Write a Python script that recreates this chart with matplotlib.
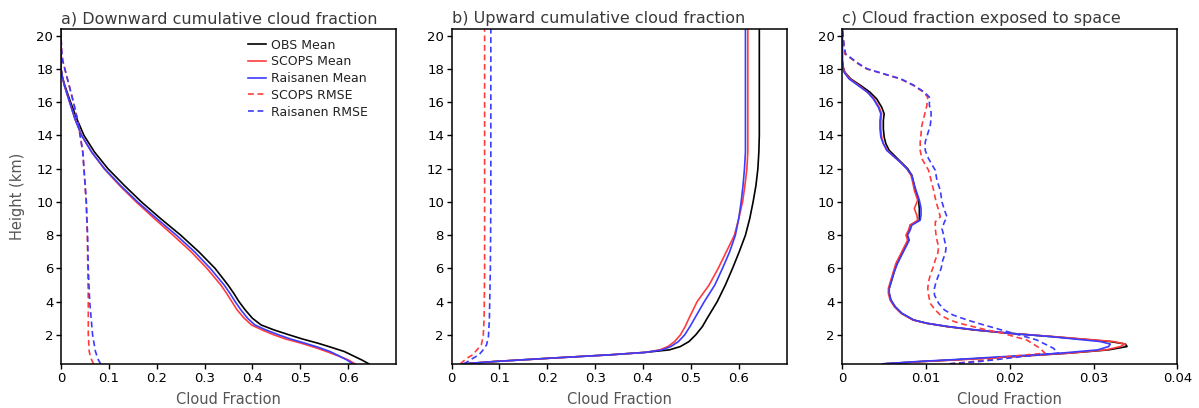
import matplotlib
matplotlib.use('Agg')
import matplotlib.pyplot as plt
import numpy as np

# ---- a) downward cumulative cloud fraction ----
h_a = [0.25, 0.5, 0.75, 1.0, 1.25, 1.5, 1.75, 2.0, 2.3, 2.6, 3.0, 3.5, 4.0, 4.5, 5.0,
       6.0, 7.0, 8.0, 9.0, 10.0, 11.0, 12.0, 13.0, 14.0, 15.0, 16.0, 17.0, 17.5, 18.0, 19.0, 20.4]
obs_a = [0.644, 0.628, 0.610, 0.592, 0.565, 0.537, 0.505, 0.477, 0.445, 0.418, 0.400, 0.385, 0.372, 0.361, 0.349,
         0.322, 0.288, 0.250, 0.208, 0.168, 0.132, 0.098, 0.070, 0.048, 0.033, 0.020, 0.008, 0.003, 0.0, 0.0, 0.0]
scops_a = [0.615, 0.600, 0.578, 0.555, 0.530, 0.502, 0.470, 0.445, 0.420, 0.398, 0.383, 0.368, 0.357, 0.346, 0.334,
           0.305, 0.272, 0.234, 0.195, 0.157, 0.122, 0.090, 0.064, 0.043, 0.029, 0.018, 0.007, 0.003, 0.0, 0.0, 0.0]
rais_a = [0.610, 0.597, 0.580, 0.562, 0.538, 0.510, 0.480, 0.455, 0.428, 0.405, 0.390, 0.376, 0.364, 0.353, 0.341,
          0.312, 0.279, 0.241, 0.200, 0.160, 0.124, 0.091, 0.064, 0.043, 0.029, 0.018, 0.007, 0.003, 0.0, 0.0, 0.0]

hr_a = [0.25, 0.5, 0.75, 1.0, 1.5, 2.0, 3.0, 4.0, 6.0, 8.0, 10.0, 12.0, 13.0, 14.0, 15.0,
        16.0, 17.0, 18.0, 18.5, 19.0, 20.0, 20.4]
scops_rmse_a = [0.068, 0.064, 0.061, 0.059, 0.058, 0.057, 0.057, 0.057, 0.056, 0.055, 0.0525, 0.048, 0.0455, 0.040, 0.034,
                0.026, 0.017, 0.008, 0.0035, 0.0015, 0.0, 0.0]
rais_rmse_a = [0.083, 0.078, 0.075, 0.072, 0.069, 0.066, 0.063, 0.060, 0.057, 0.0555, 0.053, 0.048, 0.0455, 0.040, 0.034,
               0.026, 0.017, 0.008, 0.0035, 0.0015, 0.0, 0.0]

# ---- b) upward cumulative cloud fraction ----
h_b = [0.25, 0.4, 0.6, 0.8, 0.95, 1.1, 1.3, 1.6, 2.0, 2.5, 3.0, 4.0, 5.0, 6.0, 7.0,
       8.0, 9.0, 10.0, 11.0, 12.0, 13.0, 14.0, 16.0, 18.0, 20.4]
obs_b = [0.020, 0.090, 0.206, 0.330, 0.405, 0.455, 0.478, 0.496, 0.510, 0.524, 0.534, 0.555, 0.572, 0.587, 0.601,
         0.614, 0.623, 0.630, 0.636, 0.640, 0.642, 0.643, 0.643, 0.643, 0.643]
scops_b = [0.020, 0.090, 0.206, 0.330, 0.405, 0.435, 0.452, 0.466, 0.478, 0.488, 0.496, 0.513, 0.538, 0.557, 0.574,
           0.591, 0.600, 0.608, 0.613, 0.617, 0.619, 0.619, 0.619, 0.619, 0.619]
rais_b = [0.020, 0.090, 0.206, 0.330, 0.405, 0.440, 0.458, 0.474, 0.487, 0.498, 0.508, 0.528, 0.550, 0.566, 0.581,
          0.593, 0.600, 0.605, 0.609, 0.612, 0.614, 0.614, 0.614, 0.614, 0.614]

hr_b = [0.25, 0.4, 0.6, 0.8, 1.1, 1.4, 1.9, 3.0, 6.0, 10.0, 15.0, 20.4]
scops_rmse_b = [0.018, 0.024, 0.032, 0.044, 0.053, 0.062, 0.066, 0.068, 0.069, 0.069, 0.069, 0.069]
rais_rmse_b = [0.025, 0.034, 0.045, 0.057, 0.066, 0.073, 0.077, 0.079, 0.081, 0.082, 0.082, 0.082]

# ---- c) cloud fraction exposed to space ----
h_c = [0.26, 0.4, 0.5, 0.7, 0.9, 1.1, 1.3, 1.45, 1.6, 1.9, 2.1, 2.3, 2.5, 2.7, 2.9,
       3.3, 3.7, 4.1, 4.5, 4.8, 5.3, 5.8, 6.3, 6.8, 7.1, 7.4, 7.7, 8.0, 8.3, 8.6,
       8.9, 9.2, 9.6, 10.1, 10.7, 11.2, 11.6, 12.0, 12.4, 12.8, 13.1, 13.5, 13.9, 14.4, 14.9,
       15.3, 15.7, 16.2, 16.6, 17.0, 17.4, 17.8, 18.1, 18.5, 19.0, 20.4]
obs_c = [0.0050, 0.0095, 0.0135, 0.0205, 0.0270, 0.0318, 0.0340, 0.0338, 0.0320, 0.0250, 0.0198, 0.0157, 0.0125, 0.0101, 0.0085,
         0.0071, 0.0063, 0.0058, 0.0056, 0.0056, 0.0059, 0.0062, 0.0065, 0.0070, 0.0073, 0.0076, 0.0079, 0.0077, 0.0080, 0.0081,
         0.0092, 0.0092, 0.0092, 0.0091, 0.0087, 0.0085, 0.0083, 0.0078, 0.0070, 0.0062, 0.0056, 0.0052, 0.0050, 0.0049, 0.0049,
         0.0050, 0.0047, 0.0041, 0.0033, 0.0022, 0.0010, 0.0003, 0.0001, 0.0, 0.0, 0.0]
scops_c = [0.0050, 0.0097, 0.0137, 0.0207, 0.0270, 0.0315, 0.0332, 0.0338, 0.0324, 0.0252, 0.0200, 0.0158, 0.0126, 0.0100, 0.0084,
           0.0070, 0.0062, 0.0057, 0.0055, 0.0055, 0.0058, 0.0061, 0.0064, 0.0069, 0.0072, 0.0075, 0.0078, 0.0076, 0.0079, 0.0081,
           0.0090, 0.0089, 0.0086, 0.0090, 0.0086, 0.0084, 0.0082, 0.0077, 0.0069, 0.0060, 0.0054, 0.0049, 0.0047, 0.0046, 0.0046,
           0.0047, 0.0044, 0.0038, 0.0030, 0.0020, 0.0009, 0.0003, 0.0001, 0.0, 0.0, 0.0]
rais_c = [0.0048, 0.0090, 0.0128, 0.0195, 0.0260, 0.0305, 0.0318, 0.0320, 0.0308, 0.0248, 0.0200, 0.0160, 0.0127, 0.0101, 0.0085,
          0.0071, 0.0063, 0.0058, 0.0056, 0.0056, 0.0059, 0.0062, 0.0066, 0.0071, 0.0074, 0.0077, 0.0080, 0.0078, 0.0081, 0.0083,
          0.0093, 0.0094, 0.0094, 0.0092, 0.0088, 0.0085, 0.0083, 0.0077, 0.0069, 0.0060, 0.0053, 0.0049, 0.0046, 0.0045, 0.0045,
          0.0046, 0.0043, 0.0037, 0.0030, 0.0019, 0.0008, 0.0002, 0.0001, 0.0, 0.0, 0.0]

hr_c = [0.26, 0.4, 0.55, 0.7, 0.9, 1.2, 1.45, 1.7, 1.9, 2.1, 2.3, 2.5, 2.7, 2.9, 3.2,
        3.5, 3.9, 4.4, 4.8, 5.2, 5.6, 6.0, 6.5, 6.9, 7.3, 7.7, 8.0, 8.4, 8.8, 9.1,
        9.5, 10.0, 10.7, 11.3, 11.9, 12.6, 13.1, 13.6, 14.1, 14.6, 15.0, 15.4, 15.8, 16.3, 16.6,
        17.0, 17.4, 17.7, 18.0, 18.3, 18.6, 18.9, 19.4, 20.0, 20.4]
scops_rmse_c = [0.0128, 0.0156, 0.0178, 0.0198, 0.0242, 0.0236, 0.0228, 0.0220, 0.0205, 0.0192, 0.0172, 0.0156, 0.0140, 0.0128, 0.0117,
                0.0111, 0.0105, 0.0103, 0.0102, 0.0103, 0.0105, 0.0108, 0.0111, 0.0114, 0.0115, 0.0113, 0.0112, 0.0111, 0.0111, 0.0117,
                0.0115, 0.0112, 0.0109, 0.0106, 0.0103, 0.0095, 0.0093, 0.0093, 0.0094, 0.0095, 0.0097, 0.0099, 0.0101, 0.0102, 0.0097,
                0.0085, 0.0069, 0.0049, 0.0029, 0.0019, 0.0011, 0.0003, 0.0002, 0.0001, 0.0]
rais_rmse_c = [0.0128, 0.0164, 0.0190, 0.0215, 0.0258, 0.0252, 0.0242, 0.0232, 0.0218, 0.0204, 0.0190, 0.0176, 0.0162, 0.0149, 0.0132,
               0.0122, 0.0115, 0.0110, 0.0110, 0.0112, 0.0115, 0.0118, 0.0120, 0.0123, 0.0124, 0.0122, 0.0121, 0.0119, 0.0122, 0.0125,
               0.0122, 0.0119, 0.0117, 0.0113, 0.0111, 0.0103, 0.0099, 0.0099, 0.0102, 0.0105, 0.0106, 0.0106, 0.0104, 0.0104, 0.0098,
               0.0086, 0.0070, 0.0050, 0.0030, 0.0020, 0.0012, 0.0004, 0.0002, 0.0001, 0.0]

titles = ['a) Downward cumulative cloud fraction',
          'b) Upward cumulative cloud fraction',
          'c) Cloud fraction exposed to space']
labels = ['OBS Mean', 'SCOPS Mean', 'Raisanen Mean', 'SCOPS RMSE', 'Raisanen RMSE']
yticks = [2, 4, 6, 8, 10, 12, 14, 16, 18, 20]
xticks_ab = [0, 0.1, 0.2, 0.3, 0.4, 0.5, 0.6]
xticklabels_ab = ['0', '0.1', '0.2', '0.3', '0.4', '0.5', '0.6']
xticks_c = [0, 0.01, 0.02, 0.03, 0.04]
xticklabels_c = ['0', '0.01', '0.02', '0.03', '0.04']

RED = '#ff3c3c'
BLUE = '#3c3cff'
lw = 1.2
dash = (0, (3.5, 2.2))

plt.rcParams['font.family'] = ['DejaVu Sans']

fig = plt.figure(figsize=(11.99, 4.08), dpi=100)
lefts = [61 / 1199, 451.6 / 1199, 842.3 / 1199]
axes = [fig.add_axes([l, 44 / 408, 335 / 1199, 335 / 408]) for l in lefts]

panels = [
    (h_a, obs_a, scops_a, rais_a, hr_a, scops_rmse_a, rais_rmse_a),
    (h_b, obs_b, scops_b, rais_b, hr_b, scops_rmse_b, rais_rmse_b),
    (h_c, obs_c, scops_c, rais_c, hr_c, scops_rmse_c, rais_rmse_c),
]

for i, (ax, p) in enumerate(zip(axes, panels)):
    h, obs, sc, ra, hr, sc_r, ra_r = p
    ax.plot(obs, h, color='black', lw=lw, label=labels[0])
    ax.plot(sc, h, color=RED, lw=lw, label=labels[1])
    ax.plot(ra, h, color=BLUE, lw=lw, label=labels[2])
    ax.plot(sc_r, hr, color=RED, lw=lw, ls=dash, label=labels[3])
    ax.plot(ra_r, hr, color=BLUE, lw=lw, ls=dash, label=labels[4])

    ax.set_ylim(0.25, 20.4)
    ax.set_yticks(yticks)
    if i < 2:
        ax.set_xlim(0, 0.7)
        ax.set_xticks(xticks_ab)
        ax.set_xticklabels(xticklabels_ab)
    else:
        ax.set_xlim(0, 0.04)
        ax.set_xticks(xticks_c)
        ax.set_xticklabels(xticklabels_c)

    ax.tick_params(direction='out', length=3.5, width=1, labelsize=9.5,
                   colors='black', top=False, right=False, pad=2)
    for s in ax.spines.values():
        s.set_linewidth(1.1)
    ax.set_title(titles[i], loc='left', fontsize=11.5, color='#3a3a3a', pad=4)
    ax.set_xlabel('Cloud Fraction', fontsize=10.5, color='#555555', labelpad=5)

axes[0].set_ylabel('Height (km)', fontsize=10.5, color='#555555', labelpad=8)

axes[0].legend(loc='upper left', bbox_to_anchor=(0.54, 0.99), frameon=False,
               fontsize=9, handlelength=1.4, handletextpad=0.4, labelspacing=0.3,
               borderpad=0, labelcolor='#222222')

fig.savefig('out.png', dpi=100)
